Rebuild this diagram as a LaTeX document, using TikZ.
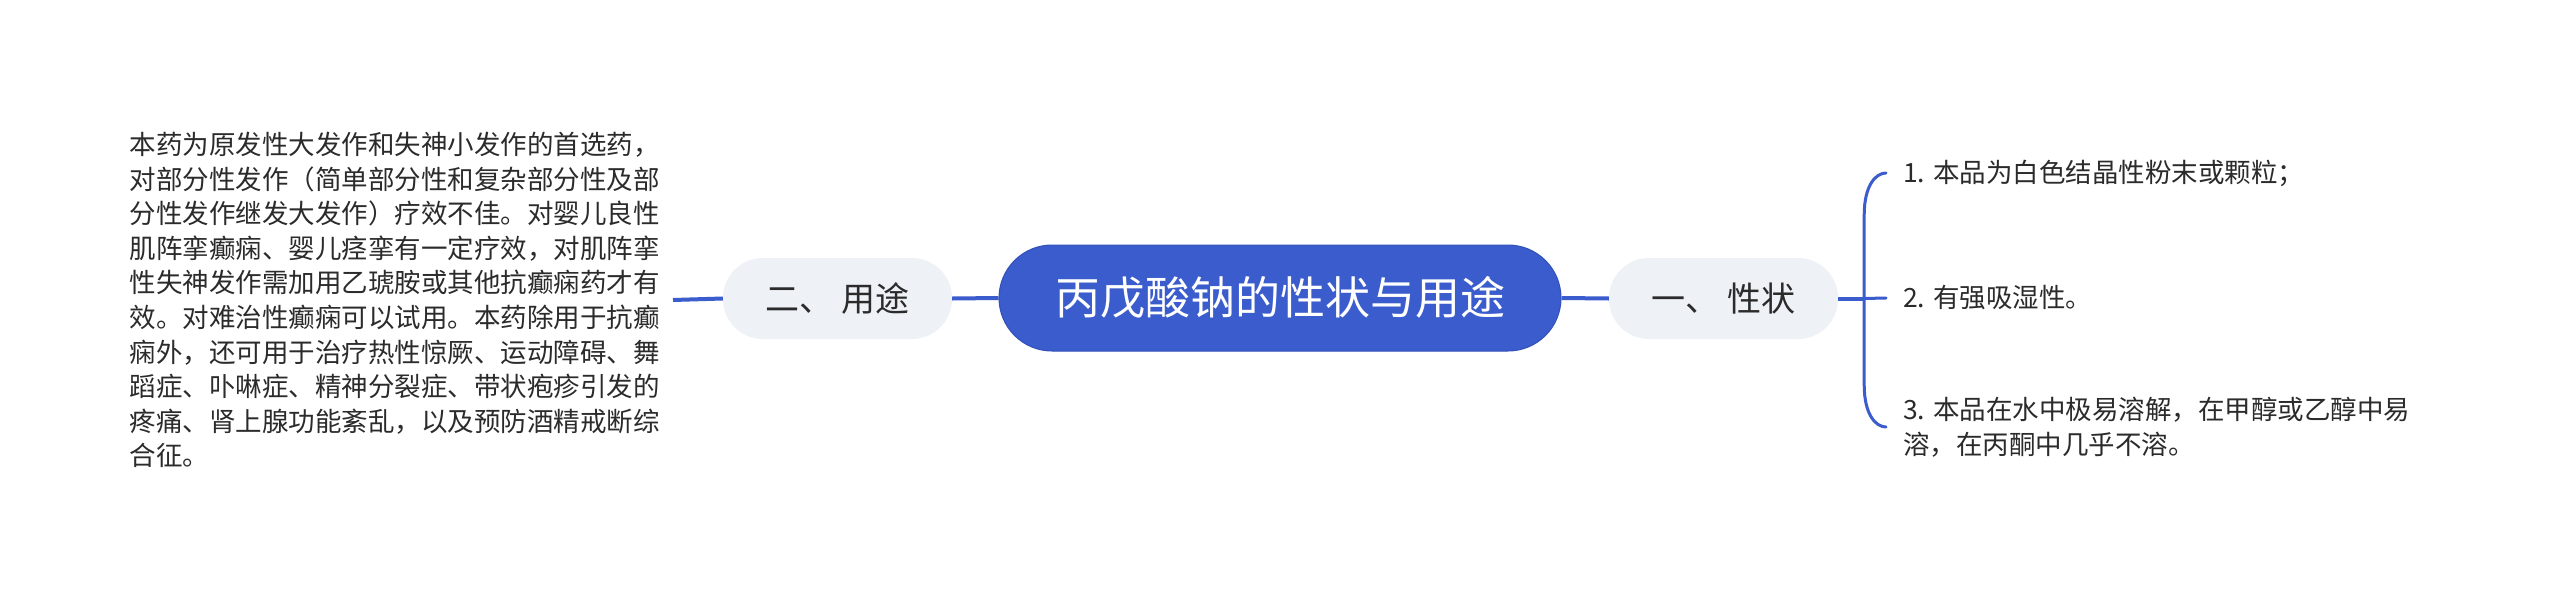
\documentclass[tikz,border=0pt]{standalone}
\usepackage{fontspec}
\setmainfont{Noto Sans CJK SC}
\usetikzlibrary{calc}
\definecolor{rootblue}{HTML}{3A5CCC}
\definecolor{rootedge}{HTML}{3150B8}
\definecolor{lineblue}{HTML}{3A5CCC}
\definecolor{branchfill}{HTML}{EEF1F5}
\definecolor{textdark}{HTML}{2B2B2B}
\begin{document}
\begin{tikzpicture}[x=1pt,y=-1pt,
  conn/.style={draw=lineblue, line width=4pt},
  brk/.style={draw=lineblue, line width=3pt, line cap=round},
  rootbox/.style={rectangle, rounded corners=53pt, fill=rootblue, draw=rootedge, line width=1pt,
    minimum width=562pt, minimum height=106pt, text=white, inner sep=0pt,
    font=\fontsize{45}{54}\selectfont},
  branchbox/.style={rectangle, rounded corners=40pt, fill=branchfill,
    minimum width=229pt, minimum height=81pt, text=textdark, inner sep=0pt,
    font=\fontsize{34}{40}\selectfont},
  leaf/.style={inner sep=0pt, align=left, text=textdark,
    font=\fontsize{26.5}{34.6}\selectfont},
]
\useasboundingbox (0,0) rectangle (2560,597);
\fill[white] (0,0) rectangle (2560,597);

\node[rootbox] (root) at (1280,298) {丙戊酸钠的性状与用途};
\node[branchbox] (b2) at (837.5,298.5) {二、 用途};
\node[branchbox] (b1) at (1723.5,298.5) {一、 性状};

\node[leaf, anchor=east] (lt) at (660,300) {本药为原发性大发作和失神小发作的首选药，\\
对部分性发作（简单部分性和复杂部分性及部\\
分性发作继发大发作）疗效不佳。对婴儿良性\\
肌阵挛癫痫、婴儿痉挛有一定疗效，对肌阵挛\\
性失神发作需加用乙琥胺或其他抗癫痫药才有\\
效。对难治性癫痫可以试用。本药除用于抗癫\\
痫外，还可用于治疗热性惊厥、运动障碍、舞\\
蹈症、卟啉症、精神分裂症、带状疱疹引发的\\
疼痛、肾上腺功能紊乱，以及预防酒精戒断综\\
合征。};

\node[leaf, anchor=west] (t1) at (1903,173) {1. 本品为白色结晶性粉末或颗粒；};
\node[leaf, anchor=west] (t2) at (1903,298) {2. 有强吸湿性。};
\node[leaf, anchor=west] (t3) at (1903,427) {3. 本品在水中极易溶解，在甲醇或乙醇中易\\溶，在丙酮中几乎不溶。};

\coordinate (j) at ($(b1.east)+(26,0)$);
\coordinate (e1) at ($(t1.west)+(-17,0)$);
\coordinate (e2) at ($(t2.west)+(-17,0)$);
\coordinate (e3) at ($(t3.west)+(-17,0)$);

\draw[conn] (root.west) -- (b2.east);
\draw[conn] (b2.west) -- ($(lt.east)+(13,0)$);
\draw[conn] (root.east) -- (b1.west);
\draw[conn] (b1.east) -- (j);

\draw[brk] (j) -- (e2);
\draw[brk] (j) -- ($(j |- e1)+(0,42)$) .. controls ($(j |- e1)+(0,12)$) and ($(e1)+(-10,0)$) .. (e1);
\draw[brk] (j) -- ($(j |- e3)+(0,-42)$) .. controls ($(j |- e3)+(0,-12)$) and ($(e3)+(-10,0)$) .. (e3);
\end{tikzpicture}
\end{document}
